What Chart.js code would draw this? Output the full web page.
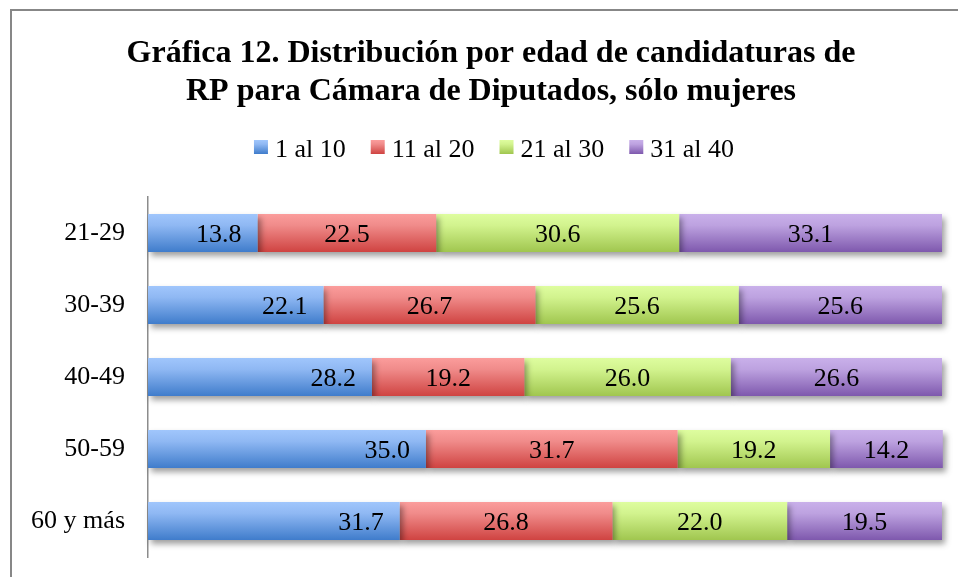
<!DOCTYPE html>
<html>
<head>
<meta charset="utf-8">
<script src="https://cdn.jsdelivr.net/npm/chart.js@4.4.1/dist/chart.umd.min.js"></script>
<style>
html,body{margin:0;padding:0;background:#ffffff;}
#wrap{width:958px;height:577px;position:relative;}
</style>
</head>
<body>
<div id="wrap"><canvas id="c" width="958" height="577"></canvas></div>
<script>
// ---- data ----
const titleLines = ['Gráfica 12. Distribución por edad de candidaturas de', 'RP para Cámara de Diputados, sólo mujeres'];
const categories = ['21-29', '30-39', '40-49', '50-59', '60 y más'];
const seriesNames = ['1 al 10', '11 al 20', '21 al 30', '31 al 40'];
const serie1 = [13.8, 22.1, 28.2, 35.0, 31.7];
const serie2 = [22.5, 26.7, 19.2, 31.7, 26.8];
const serie3 = [30.6, 25.6, 26.0, 19.2, 22.0];
const serie4 = [33.1, 25.6, 26.6, 14.2, 19.5];
const axisMin = 0;
const axisMax = 100;

// ---- styles ----
const FONT = "'Liberation Serif', 'Times New Roman', serif";
const gradStops = [
  ['#a0c6fc', '#8fb8f3', '#3f7ccb'],
  ['#fb9d9c', '#f08b8a', '#cf4341'],
  ['#defd9f', '#d2f38e', '#a0c64f'],
  ['#c9b0ea', '#bda2e0', '#7e58ad']
];
const CAT_PCT = 0.53;

function barGradient(idx) {
  return function (ctx) {
    const chart = ctx.chart;
    const ca = chart.chartArea;
    const stops = gradStops[idx];
    if (!ca || ctx.type !== 'data') return stops[1];
    const y = chart.scales.y.getPixelForValue(ctx.dataIndex);
    const half = (ca.bottom - ca.top) / categories.length * CAT_PCT / 2;
    const g = chart.ctx.createLinearGradient(0, y - half, 0, y + half);
    g.addColorStop(0, stops[0]);
    g.addColorStop(0.3, stops[1]);
    g.addColorStop(1, stops[2]);
    return g;
  };
}

const seriesData = [serie1, serie2, serie3, serie4];

const framePlugin = {
  id: 'frame',
  beforeDraw(chart) {
    const c = chart.ctx;
    c.save();
    c.fillStyle = '#ffffff';
    c.fillRect(0, 0, chart.width, chart.height);
    c.strokeStyle = '#878787';
    c.lineWidth = 2;
    c.beginPath();
    c.moveTo(11, chart.height);
    c.lineTo(11, 10);
    c.lineTo(chart.width, 10);
    c.stroke();
    // title
    c.fillStyle = '#000000';
    c.font = 'bold 32px ' + FONT;
    c.textAlign = 'center';
    c.textBaseline = 'alphabetic';
    c.fillText(titleLines[0], 491, 62);
    c.fillText(titleLines[1], 491, 100);
    // legend
    c.font = '26px ' + FONT;
    const box = 14, gapBT = 7, gapItem = 25;
    const widths = seriesNames.map(s => c.measureText(s).width);
    let total = 0;
    widths.forEach((w, i) => { total += box + gapBT + w + (i < widths.length - 1 ? gapItem : 0); });
    let x = 494 - total / 2;
    c.textAlign = 'left';
    seriesNames.forEach((s, i) => {
      const st = gradStops[i];
      const g = c.createLinearGradient(0, 140, 0, 154);
      g.addColorStop(0, st[0]);
      g.addColorStop(0.3, st[1]);
      g.addColorStop(1, st[2]);
      c.fillStyle = g;
      c.fillRect(x, 140, box, box);
      c.fillStyle = '#000000';
      c.fillText(s, x + box + gapBT, 157);
      x += box + gapBT + widths[i] + gapItem;
    });
    c.restore();
  },
  beforeDatasetsDraw(chart) {
    const c = chart.ctx;
    c.save();
    c.shadowColor = 'rgba(0,0,0,0.38)';
    c.shadowBlur = 6;
    c.shadowOffsetX = 3;
    c.shadowOffsetY = 4;
  },
  afterDatasetsDraw(chart) {
    const c = chart.ctx;
    c.restore();
    c.save();
    c.font = '26px ' + FONT;
    c.fillStyle = '#000000';
    c.textBaseline = 'alphabetic';
    chart.data.datasets.forEach((ds, i) => {
      const meta = chart.getDatasetMeta(i);
      meta.data.forEach((el, j) => {
        const v = ds.data[j];
        const txt = v.toFixed(1);
        const y = el.y + 9;
        if (i === 0) {
          c.textAlign = 'right';
          c.fillText(txt, el.x - 16, y);
        } else {
          c.textAlign = 'center';
          c.fillText(txt, (el.x + el.base) / 2, y);
        }
      });
    });
    c.restore();
  }
};

new Chart(document.getElementById('c'), {
  type: 'bar',
  data: {
    labels: categories,
    datasets: seriesData.map((d, i) => ({
      label: seriesNames[i],
      data: d,
      backgroundColor: barGradient(i),
      borderWidth: 0,
      categoryPercentage: CAT_PCT,
      barPercentage: 1,
      clip: false
    }))
  },
  options: {
    indexAxis: 'y',
    responsive: false,
    animation: false,
    devicePixelRatio: 1,
    layout: { padding: { top: 197, right: 16, bottom: 20, left: 0 } },
    plugins: {
      legend: { display: false },
      title: { display: false },
      tooltip: { enabled: false }
    },
    scales: {
      x: {
        stacked: true,
        min: axisMin,
        max: axisMax,
        display: false
      },
      y: {
        stacked: true,
        grid: { display: false, drawTicks: false },
        border: { display: true, color: '#8c8c8c', width: 1.5 },
        ticks: {
          color: '#000000',
          padding: 23,
          font: { family: FONT, size: 26 }
        },
        afterFit(scale) {
          scale.width = 148;
          scale.paddingTop = 0;
          scale.paddingBottom = 0;
        }
      }
    }
  },
  plugins: [framePlugin]
});
</script>
</body>
</html>
